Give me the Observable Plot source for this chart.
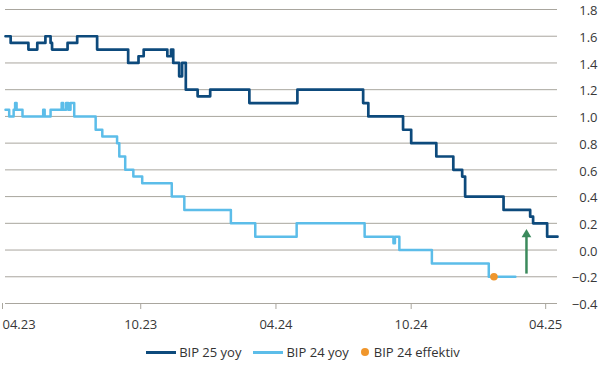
<!DOCTYPE html>
<html><head><meta charset="utf-8">
<script src="https://cdn.jsdelivr.net/npm/d3@7"></script>
<script src="https://cdn.jsdelivr.net/npm/@observablehq/plot@0.6"></script>
<style>
body{margin:0;background:#fff;font-family:"Open Sans",sans-serif;}
#legend{display:flex;justify-content:center;align-items:center;gap:12px;font-size:13px;color:#333;margin-top:8px;height:18px;padding-left:6px}
.item{display:flex;align-items:center;gap:3px}
.sw{width:30px;height:3px}
.dot{width:8px;height:8px;border-radius:50%;margin-right:2px}
</style></head><body>
<div id="chart"></div>
<div id="legend"></div>
<script>
// BIP 25 yoy (Konsensus-Prognose)
const bip25Dates = ["2023-04-01","2023-04-08","2023-05-02","2023-05-14","2023-05-25","2023-06-01","2023-06-03","2023-06-24","2023-07-07","2023-08-03","2023-09-14","2023-09-28","2023-10-05","2023-11-06","2023-11-11","2023-11-14","2023-11-22","2023-11-26","2023-12-01","2023-12-17","2024-01-03","2024-02-25","2024-04-30","2024-07-28","2024-08-04","2024-09-20","2024-10-01","2024-11-04","2024-11-27","2024-12-09","2024-12-13","2025-02-03","2025-03-11","2025-03-15","2025-04-03","2025-04-17"];
const bip25Values = [1.6,1.55,1.5,1.55,1.6,1.55,1.5,1.55,1.6,1.5,1.4,1.45,1.5,1.45,1.5,1.4,1.3,1.4,1.2,1.15,1.2,1.1,1.2,1.1,1.0,0.9,0.8,0.7,0.6,0.55,0.4,0.3,0.25,0.2,0.1,0.1];
// BIP 24 yoy
const bip24Dates = ["2023-04-01","2023-04-06","2023-04-12","2023-04-14","2023-04-16","2023-04-24","2023-05-22","2023-05-24","2023-06-01","2023-06-16","2023-06-18","2023-06-22","2023-06-25","2023-06-28","2023-07-03","2023-08-01","2023-08-10","2023-08-30","2023-09-02","2023-09-10","2023-09-21","2023-10-03","2023-11-12","2023-11-29","2024-01-31","2024-03-04","2024-04-29","2024-07-30","2024-09-07","2024-09-09","2024-09-15","2024-10-29","2025-01-14","2025-02-19"];
const bip24Values = [1.05,1.0,1.05,1.1,1.05,1.0,1.05,1.0,1.05,1.1,1.05,1.1,1.05,1.1,1.0,0.9,0.85,0.8,0.7,0.6,0.55,0.5,0.4,0.3,0.2,0.1,0.2,0.1,0.05,0.1,0.0,-0.1,-0.2,-0.2];
// BIP 24 effektiv
const effDate = "2025-01-21";
const effValue = -0.2;
// Pfeil
const arrowDate = "2025-03-06";
const arrowFrom = -0.18;
const arrowTo = 0.116;
const yTicks = [-0.4,-0.2,0,0.2,0.4,0.6,0.8,1.0,1.2,1.4,1.6,1.8];
const xTickDates = ["2023-04-01","2023-10-01","2024-04-01","2024-10-01","2025-04-01"];

const parse = d3.utcParse("%Y-%m-%d");
const bip25 = bip25Dates.map((d,i)=>({date:parse(d), value:bip25Values[i]}));
const bip24 = bip24Dates.map((d,i)=>({date:parse(d), value:bip24Values[i]}));
const xTicks = xTickDates.map(parse);
const dark="#0d4a7c", light="#5cbde9", orange="#f0962c", green="#3b8a5c", grid="#a9a69e";
const fmtX = d3.utcFormat("%m.%y");

const chart = Plot.plot({
  width:600, height:335,
  marginLeft:5, marginRight:43, marginTop:9, marginBottom:32,
  style:{fontFamily:"Open Sans, sans-serif", fontSize:"13px", color:"#383838", background:"#fff"},
  x:{type:"utc", domain:[parse("2023-04-01"), parse("2025-04-17")]},
  y:{domain:[-0.4,1.8]},
  marks:[
    Plot.gridY(yTicks, {stroke:grid, strokeOpacity:1, strokeWidth:1}),
    Plot.axisY(yTicks, {anchor:"right", tickSize:0, tickPadding:40, textAnchor:"end", dy:1.5, tickFormat:d3.format(".1f"), label:null}),
    Plot.axisX(xTicks.slice(1), {anchor:"bottom", tickSize:6, tickPadding:10, tickFormat:fmtX, stroke:grid, label:null}),
    Plot.axisX(xTicks.slice(0,1), {anchor:"bottom", tickSize:6, tickPadding:10, tickFormat:fmtX, stroke:grid, textAnchor:"start", dx:-3, label:null}),
    Plot.line(bip24, {x:"date", y:"value", stroke:light, strokeWidth:2.5, curve:"step-after"}),
    Plot.line(bip25, {x:"date", y:"value", stroke:dark, strokeWidth:2.7, curve:"step-after"}),
    Plot.dot([{date:parse(effDate), value:effValue}], {x:"date", y:"value", r:3.8, fill:orange, stroke:null}),
    Plot.ruleX([{date:parse(arrowDate)}], {x:"date", y1:arrowFrom, y2:0.1, stroke:green, strokeWidth:2.5}),
    Plot.dot([{date:parse(arrowDate), value:arrowTo}], {x:"date", y:"value", symbol:"triangle", r:3.6, fill:green, stroke:null})
  ]
});
document.getElementById("chart").appendChild(chart);

const items = [
  {label:"BIP 25 yoy", color:dark, kind:"line"},
  {label:"BIP 24 yoy", color:light, kind:"line"},
  {label:"BIP 24 effektiv", color:orange, kind:"dot"}
];
const lg = document.getElementById("legend");
items.forEach(it=>{
  const el = document.createElement("div"); el.className="item";
  const sw = document.createElement("span"); sw.className = it.kind==="line"?"sw":"dot"; sw.style.background = it.color;
  const tx = document.createElement("span"); tx.textContent = it.label;
  el.appendChild(sw); el.appendChild(tx); lg.appendChild(el);
});
</script>
</body></html>
